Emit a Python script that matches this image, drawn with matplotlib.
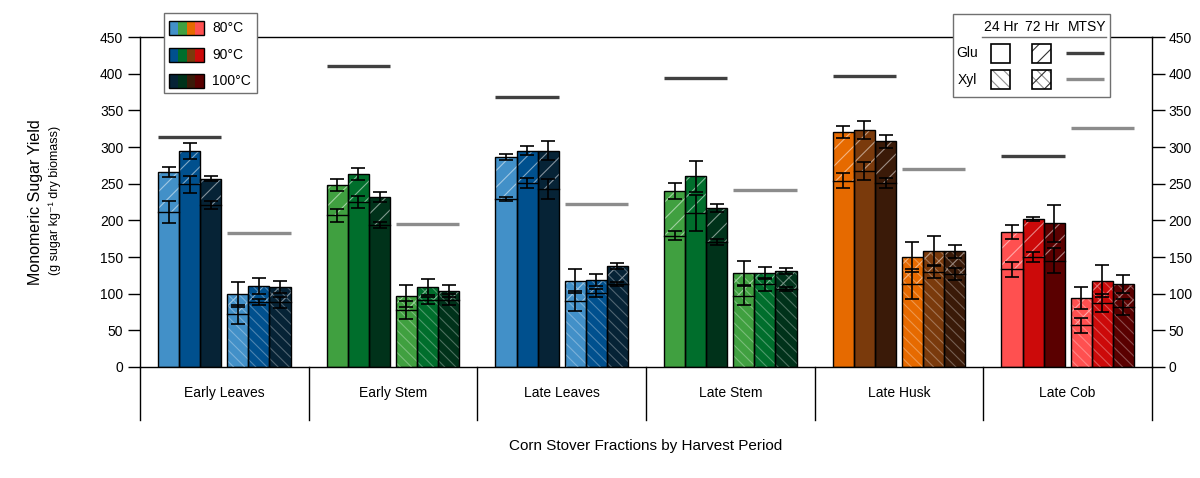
import matplotlib
matplotlib.use('Agg')
import matplotlib.pyplot as plt
import numpy as np
from matplotlib.patches import Rectangle
from matplotlib.colors import to_rgb

plt.rcParams['font.family'] = ['Liberation Sans', 'DejaVu Sans']
plt.rcParams['hatch.linewidth'] = 0.8

fractions = ['Early Leaves', 'Early Stem', 'Late Leaves', 'Late Stem', 'Late Husk', 'Late Cob']
temps = ['80°C', '90°C', '100°C']

# rows = fractions, cols = 80/90/100 C
glu_24 = [[211, 249, 221], [207, 225, 194], [229, 251, 243],
          [179, 210, 171], [254, 267, 251], [133, 150, 145]]
glu_24_err = [[15, 12, 5], [9, 8, 4], [3, 7, 14],
              [6, 25, 4], [10, 12, 7], [10, 7, 17]]
glu_72 = [[266, 294, 257], [248, 263, 232], [286, 295, 295],
          [240, 260, 217], [320, 323, 308], [184, 202, 196]]
glu_72_err = [[7, 11, 4], [8, 8, 7], [4, 6, 13],
              [11, 21, 5], [8, 12, 9], [10, 3, 25]]
xyl_24 = [[72, 89, 88], [78, 91, 92], [90, 101, 113],
          [97, 113, 106], [113, 130, 127], [57, 87, 82]]
xyl_24_err = [[13, 4, 8], [12, 5, 7], [13, 5, 3],
              [13, 9, 3], [20, 9, 8], [10, 12, 11]]
xyl_72 = [[99, 110, 109], [97, 109, 104], [117, 119, 138],
          [128, 128, 131], [150, 158, 158], [94, 117, 113]]
xyl_72_err = [[17, 11, 8], [15, 11, 8], [16, 8, 4],
              [16, 8, 4], [21, 20, 9], [15, 22, 12]]
mtsy_glu = [313, 410, 368, 394, 397, 288]
mtsy_xyl = [183, 195, 222, 241, 270, 326]

blues = ['#4290c8', '#00508e', '#062336']
greens = ['#40a040', '#006e2c', '#00321a']
oranges = ['#e66a00', '#7a3a0c', '#3a1a08']
reds = ['#ff5050', '#cc0a0a', '#5a0000']
fraction_colors = [blues, greens, blues, greens, oranges, reds]


def lighten(c, f):
    r = np.array(to_rgb(c))
    return tuple(r + (1 - r) * f)


fig = plt.figure(figsize=(12, 4.78), dpi=100)
ax = fig.add_axes([140 / 1200, 1 - 367 / 478, 1012 / 1200, 330 / 478])
ax.set_xlim(0, 6)
ax.set_ylim(0, 450)
ax.set_xticks([])
ax.set_yticks(range(0, 451, 50))
ax.tick_params(axis='y', direction='out', length=9, width=1, labelsize=10,
               left=True, right=True, labelleft=True, labelright=True, pad=3)
for s in ax.spines.values():
    s.set_linewidth(1)

w = 0.125
glu_off = 0.1075 + w / 2 + np.arange(3) * w
xyl_off = 0.5175 + w / 2 + np.arange(3) * w


def draw_set(xs, h24, h72, e24, e72, colors, xyl):
    for x, a, b, c in zip(xs, h24, h72, colors):
        ax.bar(x, b, width=w, color=c, edgecolor='none', zorder=2)
        if xyl:
            ax.bar(x, b, width=w, fill=False, hatch='\\\\\\', edgecolor=lighten(c, 0.3),
                   lw=0, zorder=3)
        ax.bar(x, b - a, bottom=a, width=w, fill=False, hatch='//',
               edgecolor=lighten(c, 0.5), lw=0, zorder=3)
        ax.bar(x, b, width=w, fill=False, edgecolor='black', lw=1, zorder=4)
        ax.plot([x - w / 2, x + w / 2], [a, a], color='black', lw=1, zorder=4)
    ax.errorbar(xs, h72, yerr=e72, fmt='none', ecolor='black', elinewidth=1.2,
                capsize=4.7, capthick=1.2, zorder=5)
    ax.errorbar(xs, h24, yerr=e24, fmt='none', ecolor='black', elinewidth=1.2,
                capsize=4.7, capthick=1.2, zorder=5)


for i, name in enumerate(fractions):
    cols = fraction_colors[i]
    draw_set(i + glu_off, glu_24[i], glu_72[i], glu_24_err[i], glu_72_err[i], cols, False)
    draw_set(i + xyl_off, xyl_24[i], xyl_72[i], xyl_24_err[i], xyl_72_err[i], cols, True)
    ax.plot([i + glu_off[0] - w / 2, i + glu_off[-1] + w / 2], [mtsy_glu[i]] * 2,
            color='#404040', lw=2.4, solid_capstyle='butt', zorder=6)
    ax.plot([i + xyl_off[0] - w / 2, i + xyl_off[-1] + w / 2], [mtsy_xyl[i]] * 2,
            color='#8c8c8c', lw=2.4, solid_capstyle='butt', zorder=6)
    ax.text(i + 0.5, -35.5, name, ha='center', va='center', fontsize=10)

for k in range(7):
    ax.plot([k, k], [0, -72], color='black', lw=1, clip_on=False)

fig.text(646 / 1200, 1 - 446 / 478, 'Corn Stover Fractions by Harvest Period',
         ha='center', va='center', fontsize=11)
fig.text(36 / 1200, 1 - 202 / 478, 'Monomeric Sugar Yield', rotation=90,
         ha='center', va='center', fontsize=11.5)
fig.text(55 / 1200, 1 - 200 / 478, '(g sugar kg⁻¹ dry biomass)', rotation=90,
         ha='center', va='center', fontsize=9)

# legends drawn in pixel coordinates
lg = fig.add_axes([0, 0, 1, 1])
lg.set_xlim(0, 1200)
lg.set_ylim(478, 0)
lg.axis('off')

lg.add_patch(Rectangle((164, 13), 93, 80, facecolor='white', edgecolor='#707070', lw=1))
for r, t in enumerate(temps):
    y0 = 21 + r * 26.5
    for j, pal in enumerate([blues, greens, oranges, reds]):
        lg.add_patch(Rectangle((169 + j * 8.75, y0), 8.75, 14, facecolor=pal[r],
                               edgecolor='none'))
    lg.add_patch(Rectangle((169, y0), 35, 14, fill=False, edgecolor='black', lw=1))
    lg.text(212, y0 + 7, t, ha='left', va='center', fontsize=10)

lg.add_patch(Rectangle((953, 14), 157, 83, facecolor='white', edgecolor='#707070', lw=1))
lg.text(1001, 27, '24 Hr', ha='center', va='center', fontsize=10)
lg.text(1042, 27, '72 Hr', ha='center', va='center', fontsize=10)
lg.text(1087, 27, 'MTSY', ha='center', va='center', fontsize=10)
lg.plot([982, 1106], [37, 37], color='#707070', lw=1)
lg.text(967, 53, 'Glu', ha='center', va='center', fontsize=10)
lg.text(967, 80, 'Xyl', ha='center', va='center', fontsize=10)
sq = 19
for ry, xyl in [(44, False), (70, True)]:
    for xx, upper in zip([991, 1032], [False, True]):
        lg.add_patch(Rectangle((xx, ry), sq, sq, facecolor='white', edgecolor='none'))
        if xyl:
            lg.add_patch(Rectangle((xx, ry), sq, sq, fill=False, edgecolor='#909090',
                                   hatch='\\\\\\', lw=0))
        if upper:
            lg.add_patch(Rectangle((xx, ry), sq, sq, fill=False, edgecolor='#303030',
                                   hatch='//', lw=0))
        lg.add_patch(Rectangle((xx, ry), sq, sq, fill=False, edgecolor='black', lw=1.2))
lg.plot([1066, 1104], [53, 53], color='#404040', lw=2.4, solid_capstyle='butt')
lg.plot([1066, 1104], [79, 79], color='#8c8c8c', lw=2.4, solid_capstyle='butt')

fig.savefig('out.png', dpi=100)
